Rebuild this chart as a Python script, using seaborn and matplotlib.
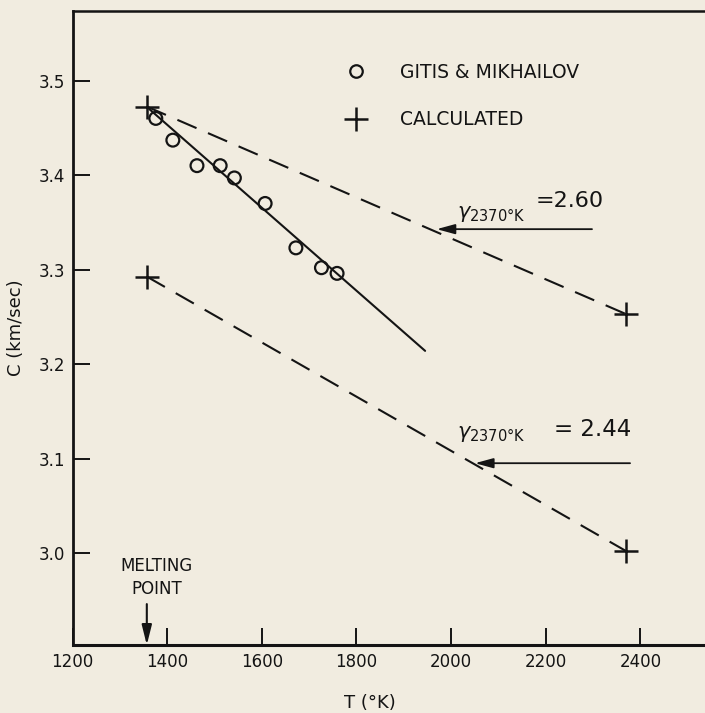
import matplotlib
matplotlib.use("Agg")
import matplotlib.pyplot as plt
import seaborn as sns
import pandas as pd
from matplotlib.lines import Line2D

# ---- data ----
meas_T = [1376, 1412, 1463, 1512, 1542, 1607, 1672, 1726, 1759]
meas_C = [3.460, 3.437, 3.410, 3.410, 3.397, 3.370, 3.323, 3.302, 3.296]
fit_T = [1362, 1945]
fit_C = [3.470, 3.214]
calc_T = [1357, 2370]
calc_C_260 = [3.4725, 3.2528]
calc_C_244 = [3.2926, 3.002]
melting_T = 1357
x_ticks = [1200, 1400, 1600, 1800, 2000, 2200, 2400]
y_ticks = [3.0, 3.1, 3.2, 3.3, 3.4, 3.5]
legend_labels = ["GITIS & MIKHAILOV", "CALCULATED"]

BG = "#F1ECE0"
INK = "#141414"

sns.set_style("ticks")
plt.rcParams["font.family"] = ["DejaVu Sans"]

fig = plt.figure(figsize=(7.05, 7.13), dpi=100, facecolor=BG)
W, H = 705, 713
left, right, top, bottom = 72.5, 705, 10.7, 645
ax = fig.add_axes([left / W, 1 - bottom / H, (right - left) / W, (bottom - top) / H])
ax.set_facecolor(BG)

dash = (0, (10, 6))
sns.lineplot(x=calc_T, y=calc_C_260, ax=ax, color=INK, lw=1.5, linestyle=dash)
sns.lineplot(x=calc_T, y=calc_C_244, ax=ax, color=INK, lw=1.5, linestyle=dash)
sns.lineplot(x=fit_T, y=fit_C, ax=ax, color=INK, lw=1.5)
sns.scatterplot(x=meas_T, y=meas_C, ax=ax, marker="o", s=85,
                facecolors="none", edgecolors=INK, linewidths=1.6, zorder=5)
sns.scatterplot(x=calc_T * 2, y=calc_C_260 + calc_C_244, ax=ax, marker="+",
                s=300, color=INK, linewidths=1.8, zorder=6)

ax.set_xlim(1200, 1200 + (right - left) / 0.4733)
ax.set_ylim(2.9027, 3.574)
ax.set_xticks(x_ticks)
ax.set_yticks(y_ticks)
ax.set_xticklabels([str(t) for t in x_ticks])
ax.set_yticklabels([f"{t:.1f}" for t in y_ticks])
ax.tick_params(direction="in", length=12, width=1.4, color=INK,
               labelsize=12, labelcolor=INK)
ax.tick_params(axis="x", pad=6)
ax.tick_params(axis="y", pad=5)
for s in ["left", "bottom", "top"]:
    ax.spines[s].set_color(INK)
ax.spines["left"].set_linewidth(2.0)
ax.spines["bottom"].set_linewidth(2.2)
ax.spines["top"].set_linewidth(1.8)
ax.spines["right"].set_visible(False)

ax.set_xlabel("T (°K)", fontsize=13, color=INK, labelpad=14)
ax.xaxis.set_label_coords(0.47, -0.078)
ax.set_ylabel("C (km/sec)", fontsize=13, color=INK, labelpad=10)

# legend
handles = [
    Line2D([], [], ls="none", marker="o", ms=9, mfc="none", mec=INK, mew=1.6),
    Line2D([], [], ls="none", marker="+", ms=17, mec=INK, mew=1.8),
]
leg = ax.legend(handles, legend_labels, loc="upper left",
                bbox_to_anchor=(0.4253, 0.9175), frameon=False, fontsize=13.5,
                handlelength=1.55, handletextpad=1.55, labelspacing=1.5,
                borderpad=0, borderaxespad=0)
for t in leg.get_texts():
    t.set_color(INK)

# melting point
ax.text(1378, 2.9955, "MELTING\nPOINT", ha="center", va="top", fontsize=12,
        color=INK, linespacing=1.3)
ax.annotate("", xy=(melting_T, 2.9027), xytext=(melting_T, 2.946),
            arrowprops=dict(arrowstyle="-|>,head_length=0.6,head_width=0.15",
                            mutation_scale=20, color=INK, lw=1.5,
                            shrinkA=0, shrinkB=0))

# gamma annotations
arrowstyle = dict(arrowstyle="-|>,head_length=0.55,head_width=0.15",
                  mutation_scale=20, color=INK, lw=1.3, shrinkA=0, shrinkB=0)
ax.annotate("", xy=(1969.5, 3.3428), xytext=(2297.6, 3.3428), arrowprops=arrowstyle)
ax.annotate("", xy=(2050.4, 3.0951), xytext=(2378, 3.0951), arrowprops=arrowstyle)
ax.text(2012, 3.3550, r"$\gamma_{\mathsf{2370°K}}$", fontsize=15, color=INK,
        ha="left", va="baseline")
ax.text(2178, 3.3660, "=2.60", fontsize=16, color=INK, ha="left", va="baseline")
ax.text(2012, 3.1220, r"$\gamma_{\mathsf{2370°K}}$", fontsize=15, color=INK,
        ha="left", va="baseline")
ax.text(2218, 3.1235, "= 2.44", fontsize=16.5, color=INK, ha="left", va="baseline")

fig.savefig("out.png", dpi=100, facecolor=BG)
